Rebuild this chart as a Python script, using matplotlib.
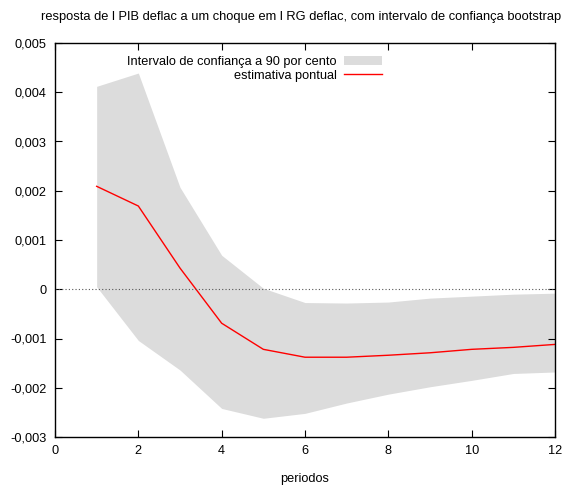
import matplotlib
matplotlib.use("Agg")
import matplotlib.pyplot as plt
from matplotlib.ticker import FuncFormatter

periods = [1, 2, 3, 4, 5, 6, 7, 8, 9, 10, 11, 12]
estimate = [0.00209, 0.00169, 0.00043, -0.00069, -0.00122, -0.00138, -0.00138,
            -0.00134, -0.00129, -0.00122, -0.00118, -0.00112]
upper = [0.00412, 0.00439, 0.00207, 0.00069, 0.00002, -0.00027, -0.00028,
         -0.00026, -0.00018, -0.00014, -0.00010, -0.00008]
lower = [0.00005, -0.00104, -0.00164, -0.00242, -0.00262, -0.00252, -0.00231,
         -0.00213, -0.00198, -0.00185, -0.00171, -0.00168]
xticks = [0, 2, 4, 6, 8, 10, 12]
yticks = [-0.003, -0.002, -0.001, 0, 0.001, 0.002, 0.003, 0.004, 0.005]

plt.rcParams['font.family'] = ['Liberation Sans', 'DejaVu Sans']
fig = plt.figure(figsize=(5.74, 4.86), dpi=100)
ax = fig.add_axes([55/574, 49/486, 500/574, 394/486])

ax.fill_between(periods, lower, upper, color='#dcdcdc', linewidth=0,
                label='Intervalo de confiança a 90 por cento')
ax.plot(periods, estimate, color='#ff0000', linewidth=1.0, label='estimativa pontual')
ax.axhline(0, color='#555555', linestyle=(0, (1, 2)), linewidth=0.8)

ax.set_xlim(0, 12)
ax.set_ylim(-0.003, 0.005)
ax.set_xticks(xticks)
ax.set_yticks(yticks)

def fmt(v, pos):
    if abs(v) < 1e-12:
        return '0'
    return ('%.3f' % v).replace('.', ',')

ax.yaxis.set_major_formatter(FuncFormatter(fmt))
ax.tick_params(direction='in', length=5, width=0.8, labelsize=9.2,
               top=True, right=True, pad=6)
for s in ax.spines.values():
    s.set_linewidth(1.0)

ax.set_xlabel('periodos', fontsize=9.2, labelpad=11)
fig.text(0.525, 0.965, 'resposta de l PIB deflac a um choque em l RG deflac, com intervalo de confiança bootstrap',
         ha='center', va='center', fontsize=9.3)

leg = ax.legend(loc='upper right', bbox_to_anchor=(0.665, 0.98), frameon=False,
                markerfirst=False, fontsize=9.2, handlelength=3.0,
                borderaxespad=0, labelspacing=0.15, handletextpad=0.6)
for t in leg.get_texts():
    t.set_ha('right')

fig.savefig('out.png', dpi=100)
